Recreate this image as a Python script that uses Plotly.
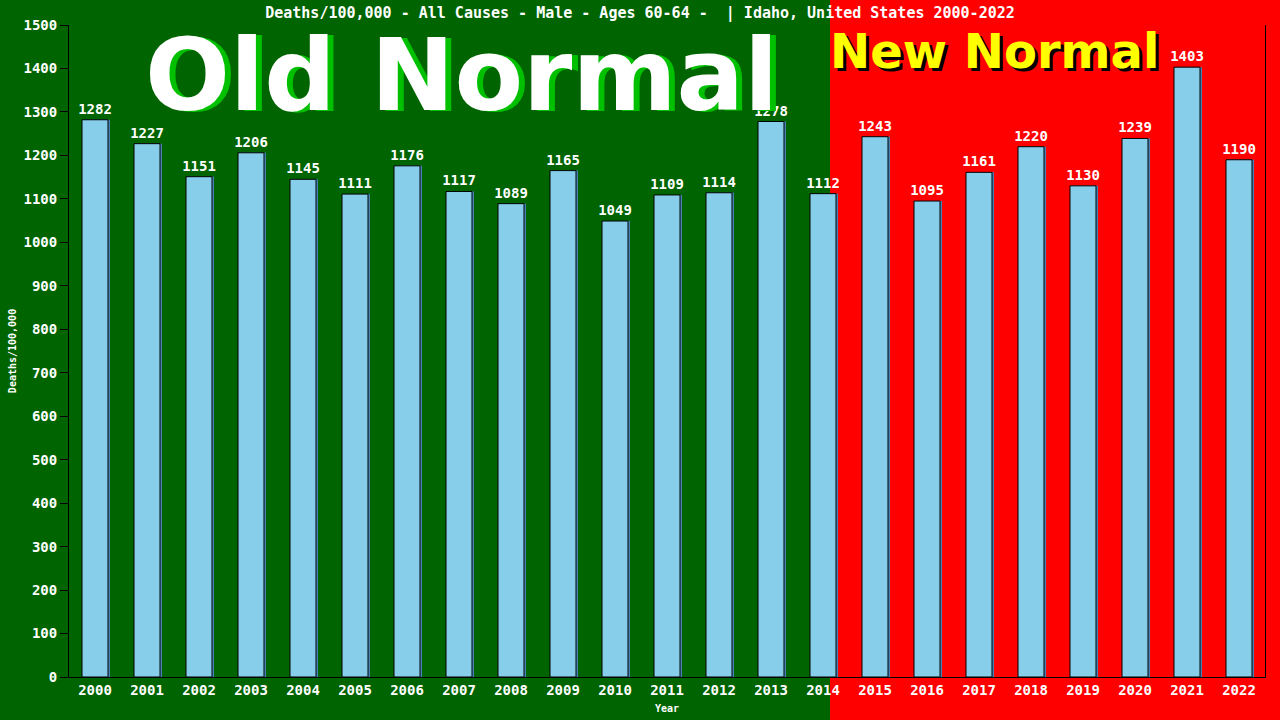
import plotly.graph_objects as go

years = [str(y) for y in range(2000, 2023)]
deaths = [1282, 1227, 1151, 1206, 1145, 1111, 1176, 1117, 1089, 1165, 1049, 1109,
          1114, 1278, 1112, 1243, 1095, 1161, 1220, 1130, 1239, 1403, 1190]
y_ticks = list(range(0, 1501, 100))

title = "Deaths/100,000 - All Causes - Male - Ages 60-64 -  | Idaho, United States 2000-2022"
mono = "DejaVu Sans Mono"

# plot area in pixels, used to place the background split and the big labels
left, right, top, bottom = 69, 15, 25, 43
plot_w = 1280 - left - right
plot_h = 720 - top - bottom


def px_x(px):
    return (px - left) / plot_w


def px_y(py):
    return (720 - bottom - py) / plot_h


# thin steel-blue edge seen on the right of each bar
shadow = go.Bar(
    x=years, y=deaths, width=0.5, offset=-0.25 + 2.0 / 52,
    marker=dict(color="#4682b4", line=dict(width=0)),
    hoverinfo="skip",
)

bars = go.Bar(
    x=years,
    y=deaths,
    width=0.5,
    offset=-0.25,
    marker=dict(color="#87ceeb", line=dict(color="black", width=1)),
    text=[str(v) for v in deaths],
    textposition="outside",
    constraintext="none",
    textfont=dict(family=mono, size=14, color="white", weight="bold"),
    cliponaxis=False,
)

fig = go.Figure(data=[shadow, bars])

shapes = [
    dict(type="rect", xref="paper", yref="paper", x0=px_x(830), x1=px_x(1300),
         y0=-0.2, y1=1.2, fillcolor="#ff0000", line=dict(width=0), layer="below"),
]

big = dict(xref="paper", yref="paper", showarrow=False, xanchor="center", yanchor="middle")
annotations = [
    dict(text="<b>Old Normal</b>", x=px_x(467), y=px_y(77),
         font=dict(family="DejaVu Sans", size=100, color="#00c000"), **big),
    dict(text="<b>Old Normal</b>", x=px_x(461), y=px_y(75),
         font=dict(family="DejaVu Sans", size=100, color="white"), **big),
    dict(text="<b>New Normal</b>", x=px_x(997), y=px_y(54),
         font=dict(family="DejaVu Sans", size=48, color="black"), **big),
    dict(text="<b>New Normal</b>", x=px_x(994), y=px_y(51),
         font=dict(family="DejaVu Sans", size=48, color="yellow"), **big),
]

fig.update_layout(
    width=1280,
    height=720,
    margin=dict(l=left, r=right, t=top, b=bottom),
    paper_bgcolor="#006400",
    plot_bgcolor="rgba(0,0,0,0)",
    barmode="overlay",
    title=dict(text=title, x=0.5, xanchor="center", y=0.982, yanchor="middle",
               font=dict(family=mono, size=15, color="white", weight="bold")),
    shapes=shapes,
    annotations=annotations,
    showlegend=False,
    xaxis=dict(
        title=dict(text="<b>Year</b>", font=dict(family=mono, size=10, color="white"), standoff=8),
        tickfont=dict(family=mono, size=14, color="white", weight="bold"),
        showline=True, linecolor="black", linewidth=1, automargin=False,
        showgrid=False, ticks="", range=[-0.5, 22.5],
    ),
    yaxis=dict(
        title=dict(text="<b>Deaths/100,000</b>", font=dict(family=mono, size=10, color="white"), standoff=4),
        tickfont=dict(family=mono, size=14, color="white", weight="bold"),
        tickvals=y_ticks,
        range=[0, 1500],
        showline=True, mirror=True, linecolor="black", linewidth=1, automargin=False,
        ticks="outside", ticklen=8, tickcolor="black",
        showgrid=False, zeroline=False,
    ),
)

fig.write_html("out.html", config={"displayModeBar": False},
               post_script="document.body.style.margin='0';")
